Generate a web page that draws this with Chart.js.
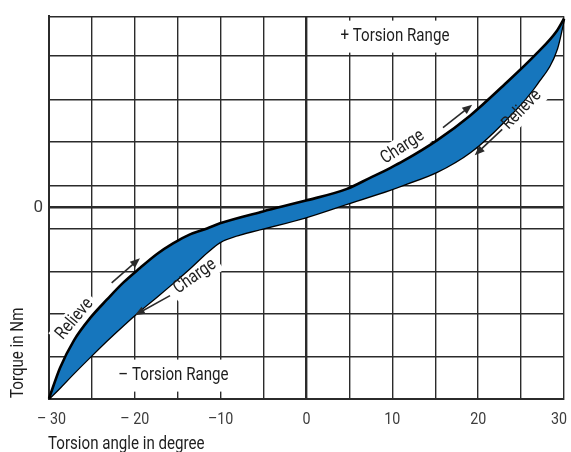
<!DOCTYPE html>
<html>
<head>
<meta charset="utf-8">
<script src="https://cdn.jsdelivr.net/npm/chart.js@4.4.1/dist/chart.umd.min.js"></script>
<style>
  html, body { margin: 0; padding: 0; background: #fff; }
  #wrap { width: 571px; height: 452px; }
</style>
</head>
<body>
<div id="wrap"><canvas id="c" width="571" height="452"></canvas></div>
<script>
// torsion angle (deg) / torque (grid units)
const upperAngle  = [-30, -28.72, -27.09, -25.22, -23.24, -21.38, -19.40, -17.42, -15.55, -13.57, -11.59, -10.08, -5.07, -0.17, 4.72, 7.40, 9.73, 11.24, 15.20, 19.05, 22.89, 26.85, 29.18, 30];
const upperTorque = [-4.49, -3.77, -3.12, -2.60, -2.16, -1.77, -1.42, -1.09, -0.84, -0.63, -0.49, -0.37, -0.09, 0.16, 0.44, 0.70, 0.93, 1.09, 1.58, 2.16, 2.86, 3.63, 4.16, 4.44];
const lowerAngle  = [-30, -28.72, -27.20, -25.22, -23.24, -21.38, -19.40, -17.42, -15.55, -13.57, -11.59, -10.08, -7.75, -5.07, -0.17, 4.72, 9.73, 11.24, 15.20, 19.05, 22.89, 26.85, 29.18, 30];
const lowerTorque = [-4.49, -4.23, -3.91, -3.51, -3.12, -2.77, -2.42, -2.09, -1.77, -1.42, -1.05, -0.81, -0.63, -0.49, -0.23, 0.09, 0.42, 0.53, 0.84, 1.30, 2.00, 2.91, 3.74, 4.44];

const xTickValues = [-30, -20, -10, 0, 10, 20, 30];
const xTickText   = ['\u2013 30', '\u2013 20', '\u201310', '0', '10', '20', '30'];
const yGridLines  = [-4.5, -3.5, -2.5, -1.5, -0.5, 0, 0.52, 1.55, 2.53, 3.58, 4.5];

// text notes on the plot (data coords)
const noteText     = ['+ Torsion Range', '\u2013 Torsion Range', 'Relieve', 'Charge', 'Charge', 'Relieve'];
const noteAngle    = [10.3, -15.5, -27.0, -13.0, 11.2, 25.1];
const noteTorque   = [4.02, -3.95, -2.62, -1.62, 1.42, 2.3];
const noteRotation = [0, 0, -50, -35, -33, -46];

// direction arrows [angle, torque]
const arrowFrom = [[-22.7, -1.77], [-15.9, -2.07], [15.9, 1.88], [22.8, 1.84]];
const arrowTo   = [[-19.4, -1.19], [-20.0, -2.53], [19.3, 2.42], [19.6, 1.23]];

const GRID = '#2b2b2b';
const BAND = '#1676bd';
const FAMILY = 'Roboto, "Liberation Sans", sans-serif';
const SQUEEZE = 0.84; // the original lettering is a condensed face

const toPts = (xs, ys) => xs.map((v, i) => ({ x: v, y: ys[i] }));

function condensedText(ctx, text, x, y, rot, align) {
  ctx.save();
  ctx.translate(x, y);
  if (rot) ctx.rotate(rot * Math.PI / 180);
  ctx.scale(SQUEEZE, 1);
  ctx.textAlign = align || 'center';
  ctx.textBaseline = 'middle';
  ctx.fillText(text, 0, 0);
  ctx.restore();
}

const notesPlugin = {
  id: 'notes',
  beforeDatasetsDraw(chart) {
    const { ctx, scales: { x, y } } = chart;
    ctx.save();
    ctx.font = '18px ' + FAMILY;
    ctx.fillStyle = '#fff';
    noteText.forEach((t, i) => {
      const w = ctx.measureText(t).width * SQUEEZE;
      const [padX, padY] = noteRotation[i] ? [4, 2] : [22, 7];
      ctx.save();
      ctx.translate(x.getPixelForValue(noteAngle[i]), y.getPixelForValue(noteTorque[i]));
      ctx.rotate(noteRotation[i] * Math.PI / 180);
      ctx.fillRect(-w / 2 - padX, -9 - padY, w + 2 * padX, 18 + 2 * padY);
      ctx.restore();
    });
    ctx.restore();
  },
  afterDatasetsDraw(chart) {
    const { ctx, scales: { x, y } } = chart;
    ctx.save();
    ctx.fillStyle = '#1e1e1e';
    ctx.font = '18px ' + FAMILY;
    noteText.forEach((t, i) => {
      condensedText(ctx, t, x.getPixelForValue(noteAngle[i]), y.getPixelForValue(noteTorque[i]), noteRotation[i]);
    });
    // arrows
    ctx.strokeStyle = '#2a2a2a';
    ctx.fillStyle = '#2a2a2a';
    ctx.lineWidth = 1.6;
    arrowFrom.forEach((f, i) => {
      const x0 = x.getPixelForValue(f[0]), y0 = y.getPixelForValue(f[1]);
      const x1 = x.getPixelForValue(arrowTo[i][0]), y1 = y.getPixelForValue(arrowTo[i][1]);
      const a = Math.atan2(y1 - y0, x1 - x0);
      ctx.beginPath();
      ctx.moveTo(x0, y0);
      ctx.lineTo(x1 - 6 * Math.cos(a), y1 - 6 * Math.sin(a));
      ctx.stroke();
      ctx.beginPath();
      ctx.moveTo(x1, y1);
      ctx.lineTo(x1 - 10 * Math.cos(a) + 4 * Math.sin(a), y1 - 10 * Math.sin(a) - 4 * Math.cos(a));
      ctx.lineTo(x1 - 10 * Math.cos(a) - 4 * Math.sin(a), y1 - 10 * Math.sin(a) + 4 * Math.cos(a));
      ctx.closePath();
      ctx.fill();
    });
    ctx.restore();
  },
  afterDraw(chart) {
    const { ctx, chartArea, scales: { x } } = chart;
    ctx.save();
    // x tick labels, kept inside the canvas at both ends
    ctx.fillStyle = '#3c3c3c';
    ctx.font = '17px ' + FAMILY;
    xTickValues.forEach((v, i) => {
      const w = ctx.measureText(xTickText[i]).width * SQUEEZE;
      let cx = x.getPixelForValue(v);
      cx = Math.max(37 + w / 2, Math.min(cx, 567 - w / 2));
      condensedText(ctx, xTickText[i], cx, chartArea.bottom + 21, 0);
    });
    // axis titles
    ctx.fillStyle = '#1e1e1e';
    ctx.font = '18px ' + FAMILY;
    condensedText(ctx, 'Torsion angle in degree', chartArea.left - 1, 444, 0, 'left');
    condensedText(ctx, 'Torque in Nm', 18, chartArea.bottom - 1, -90, 'left');
    ctx.restore();
  }
};

new Chart(document.getElementById('c'), {
  type: 'line',
  data: {
    datasets: [
      {
        label: 'upper',
        data: toPts(upperAngle, upperTorque),
        borderColor: '#000',
        borderWidth: 2.6,
        backgroundColor: BAND,
        fill: '+1',
        pointRadius: 0,
        cubicInterpolationMode: 'monotone',
        clip: false
      },
      {
        label: 'lower',
        data: toPts(lowerAngle, lowerTorque),
        borderColor: '#000',
        borderWidth: 2.6,
        fill: false,
        pointRadius: 0,
        cubicInterpolationMode: 'monotone',
        clip: false
      }
    ]
  },
  options: {
    responsive: false,
    animation: false,
    devicePixelRatio: 1,
    layout: { padding: { top: 12, right: 7, left: 0, bottom: 0 } },
    plugins: { legend: { display: false }, tooltip: { enabled: false } },
    scales: {
      x: {
        type: 'linear',
        min: -30,
        max: 30,
        afterFit: (s) => { s.height = 53; s.paddingLeft = 0; s.paddingRight = 0; },
        border: { color: GRID, width: 2 },
        grid: {
          color: GRID,
          drawTicks: false,
          lineWidth: (c) => (c.tick && c.tick.value === 0 ? 2.4 : 1.4)
        },
        ticks: {
          stepSize: 5,
          autoSkip: false,
          maxRotation: 0,
          callback: () => ''
        }
      },
      y: {
        type: 'linear',
        min: -4.5,
        max: 4.5,
        afterFit: (s) => { s.width = 49; },
        afterBuildTicks: (s) => { s.ticks = yGridLines.map((v) => ({ value: v })); },
        border: { color: GRID, width: 2 },
        grid: {
          color: GRID,
          drawTicks: false,
          lineWidth: (c) => (c.tick && c.tick.value === 0 ? 2.4 : 1.4)
        },
        ticks: {
          autoSkip: false,
          padding: 6,
          color: '#3c3c3c',
          font: { family: FAMILY, size: 17 },
          callback: (v) => (v === 0 ? '0' : '')
        }
      }
    }
  },
  plugins: [notesPlugin]
});
</script>
</body>
</html>
